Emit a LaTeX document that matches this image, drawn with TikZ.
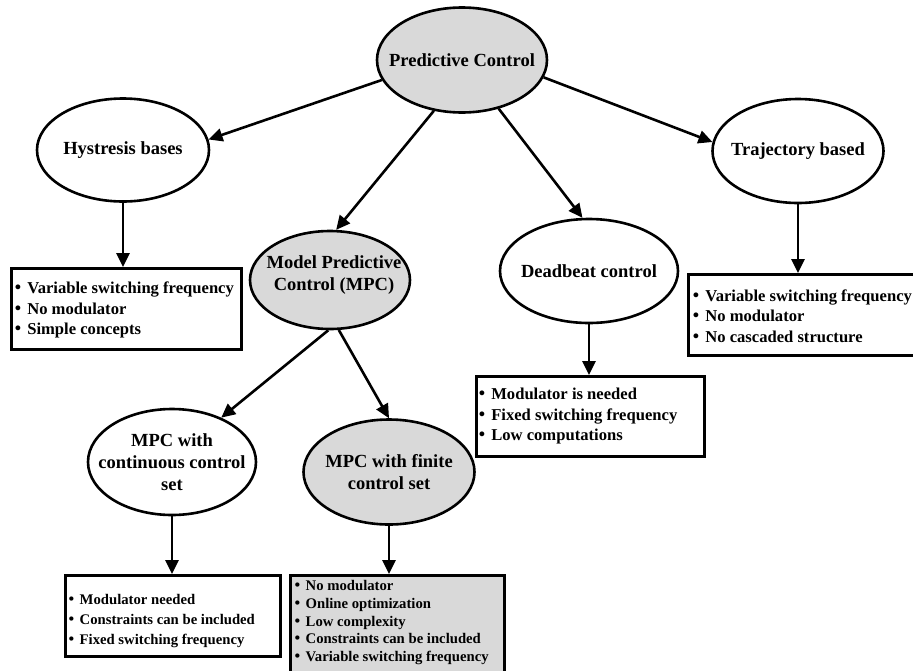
\documentclass[tikz,border=0pt]{standalone}
\usepackage{fontspec}
\setmainfont{Liberation Serif}
\newfontfamily\bulfont{DejaVu Sans}
\usetikzlibrary{arrows.meta,shapes.geometric}
\definecolor{shade}{HTML}{D9D9D9}
\newcommand{\bul}{\makebox[0.85em][l]{{\bulfont\mdseries •}}}
\begin{document}
\begin{tikzpicture}[x=1pt,y=-1pt,
  ell/.style={ellipse,draw,line width=2.6pt,inner sep=0pt,fill=white},
  gell/.style={ell,fill=shade},
  etxt/.style={align=center,inner sep=0pt,font=\fontsize{18.5}{22}\selectfont\bfseries},
  boxn/.style={rectangle,draw,line width=2.6pt,inner sep=0pt,fill=white},
  gbox/.style={boxn,fill=shade},
  btxt/.style={align=left,inner sep=0pt,anchor=west,font=\fontsize{16.6}{20.5}\selectfont\bfseries},
  stxt/.style={align=left,inner sep=0pt,anchor=west,font=\fontsize{14.7}{20}\selectfont\bfseries},
  ftxt/.style={align=left,inner sep=0pt,anchor=north west,font=\fontsize{14.7}{17.8}\selectfont\bfseries},
  arr/.style={line width=2.6pt,-{Triangle[length=14pt,width=13pt]}}
]
\useasboundingbox (0,0) rectangle (913,670);

% ellipses
\node[gell,minimum width=170pt,minimum height=105pt] (pc) at (462,60) {};
\node[etxt] (pct) at (pc.center) {Predictive Control};
\node[ell,minimum width=172pt,minimum height=103pt] (hy) at (123,150) {};
\node[etxt] (hyt) at (hy.center) {Hystresis bases};
\node[ell,minimum width=171pt,minimum height=104pt] (tr) at (798,151) {};
\node[etxt] (trt) at (tr.center) {Trajectory based};
\node[gell,minimum width=160pt,minimum height=98pt] (mpc) at (330,280) {};
\node[etxt] (mpct) at ([xshift=4pt,yshift=5pt]mpc.center) {Model Predictive\\Control (MPC)};
\node[ell,minimum width=178pt,minimum height=104pt] (db) at (589,271) {};
\node[etxt] (dbt) at (db.center) {Deadbeat control};
\node[ell,minimum width=168pt,minimum height=106pt] (cc) at (172,462) {};
\node[etxt] (cct) at (cc.center) {MPC with\\continuous control\\set};
\node[gell,minimum width=171pt,minimum height=105pt] (fc) at (389,472) {};
\node[etxt] (fct) at (fc.center) {MPC with finite\\control set};

% boxes
\node[boxn,minimum width=230pt,minimum height=81pt,anchor=north west] (hb) at (10,267) {};
\node[btxt] (hbt) at ([xshift=3pt,yshift=-1.5pt]hb.west) {\bul Variable switching frequency\\\bul No modulator\\\bul Simple concepts};
\node[boxn,minimum width=235pt,minimum height=81pt,anchor=north west] (tb) at (687,273) {};
\node[btxt] (tbt) at ([xshift=4pt,yshift=-1pt]tb.west) {\bul Variable switching frequency\\\bul No modulator\\\bul No cascaded structure};
\node[boxn,minimum width=228pt,minimum height=80pt,anchor=north west] (dbb) at (475,375) {};
\node[btxt] (dbbt) at ([xshift=2pt]dbb.west) {\bul Modulator is needed\\\bul Fixed switching frequency\\\bul Low computations};
\node[boxn,minimum width=215pt,minimum height=81pt,anchor=north west] (cb) at (64,574) {};
\node[stxt] (cbt) at ([xshift=3pt,yshift=-5.5pt]cb.west) {\bul Modulator needed\\\bul Constraints can be included\\\bul Fixed switching frequency};
\node[gbox,minimum width=214pt,minimum height=102pt,anchor=north west] (fb) at (289,574) {};
\node[ftxt] (fbt) at ([xshift=4pt,yshift=-6pt]fb.north west) {\bul No modulator\\\bul Online optimization\\\bul Low complexity\\\bul Constraints can be included\\\bul Variable switching frequency};

% connectors
\draw[arr] (pc.194) -- (hy.7);
\draw[arr] (pc.241) -- (mpc.83);
\draw[arr] (pc.307) -- (db.97);
\draw[arr] (pc.348) -- (tr.174);
\draw[arr] (mpc.268) -- (cc.42);
\draw[arr] (mpc.280) -- (fc.north);
\draw[arr] (hy.south) -- (hy.south |- hb.north);
\draw[arr] (tr.south) -- (tr.south |- tb.north);
\draw[arr] (db.south) -- (db.south |- dbb.north);
\draw[arr] (cc.south) -- (cc.south |- cb.north);
\draw[arr] (fc.south) -- (fc.south |- fb.north);
\end{tikzpicture}
\end{document}
